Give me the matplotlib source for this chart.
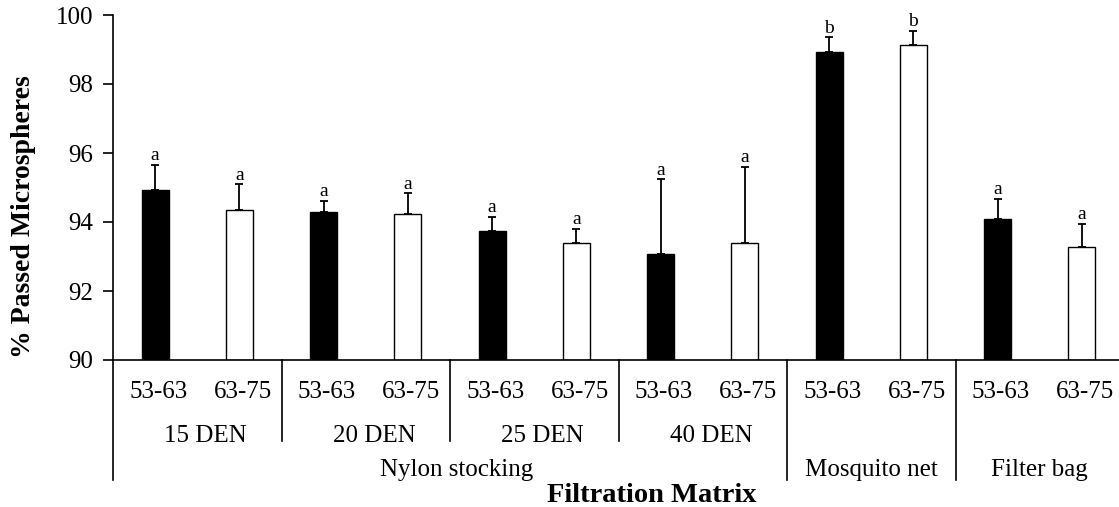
import matplotlib
matplotlib.use("Agg")
import matplotlib.pyplot as plt
import matplotlib.transforms as mtransforms
import numpy as np

# data
materials = ["15 DEN", "20 DEN", "25 DEN", "40 DEN", "Mosquito net", "Filter bag"]
size_labels = ["53-63", "63-75"]
means_small = [94.94, 94.29, 93.73, 93.07, 98.94, 94.09]
means_large = [94.36, 94.23, 93.39, 93.39, 99.13, 93.27]
err_small = [0.72, 0.32, 0.42, 2.17, 0.41, 0.58]
err_large = [0.73, 0.60, 0.42, 2.21, 0.42, 0.67]
letters_small = ["a", "a", "a", "a", "b", "a"]
letters_large = ["a", "a", "a", "a", "b", "a"]

W, H = 1119, 507
fig = plt.figure(figsize=(W / 100, H / 100), dpi=100)
plt.rcParams["font.family"] = ["Liberation Serif", "DejaVu Serif"]

ax_left, ax_right, ax_top, ax_bot = 113, 1124, 15, 360
ax = fig.add_axes([ax_left / W, 1 - ax_bot / H, (ax_right - ax_left) / W, (ax_bot - ax_top) / H])

x = np.arange(len(materials))
bar_w = 0.16
xs = x + 0.25
xl = x + 0.75

ax.bar(xs, np.array(means_small) - 90, bottom=90, width=bar_w, color="black", edgecolor="black", linewidth=1)
ax.bar(xl, np.array(means_large) - 90, bottom=90, width=bar_w, color="white", edgecolor="black", linewidth=1)
ax.errorbar(xs, means_small, yerr=[np.zeros(6), err_small], fmt="none", ecolor="black", elinewidth=1.3, capsize=3, capthick=1.3)
ax.errorbar(xl, means_large, yerr=[np.zeros(6), err_large], fmt="none", ecolor="black", elinewidth=1.3, capsize=3, capthick=1.3)

for xi, m, e, s in zip(xs, means_small, err_small, letters_small):
    ax.text(xi, m + e + 0.02, s, ha="center", va="bottom", fontsize=14)
for xi, m, e, s in zip(xl, means_large, err_large, letters_large):
    ax.text(xi, m + e + 0.02, s, ha="center", va="bottom", fontsize=14)

ax.set_xlim(0, len(materials))
ax.set_ylim(90, 100)
ax.set_yticks([90, 92, 94, 96, 98, 100])
ax.tick_params(axis="y", direction="out", length=7, width=1.2, labelsize=18, pad=7)
ax.set_xticks([])
for side in ["top", "right"]:
    ax.spines[side].set_visible(False)
ax.spines["left"].set_linewidth(1.2)
ax.spines["bottom"].set_linewidth(1.2)

fig.text(24 / W, 1 - 217 / H, "% Passed Microspheres", rotation=90, ha="center", va="center",
         fontsize=20, fontweight="bold")

# category labels below the axis
trans = mtransforms.blended_transform_factory(ax.transData, ax.transAxes)


def py(p):
    return (ax_bot - p) / (ax_bot - ax_top)


for i in range(len(materials)):
    ax.text(xs[i] + 0.02, py(392), size_labels[0], transform=trans, ha="center", va="center", fontsize=18)
    ax.text(xl[i] + 0.02, py(392), size_labels[1], transform=trans, ha="center", va="center", fontsize=18)
for i in range(4):
    ax.text(x[i] + 0.55, py(436), materials[i], transform=trans, ha="center", va="center", fontsize=18)
ax.text(2.04, py(470), "Nylon stocking", transform=trans, ha="center", va="center", fontsize=18)
ax.text(4.5, py(470), materials[4], transform=trans, ha="center", va="center", fontsize=18)
ax.text(5.5, py(470), materials[5], transform=trans, ha="center", va="center", fontsize=18)

for i in range(len(materials) + 1):
    end = 441 if i in (1, 2, 3) else 480
    ax.plot([i, i], [0, py(end)], transform=trans, color="black", linewidth=1.2, clip_on=False)

fig.text(652 / W, 1 - 495 / H, "Filtration Matrix", ha="center", va="center", fontsize=20.5, fontweight="bold")

fig.savefig("out.png", dpi=100)
